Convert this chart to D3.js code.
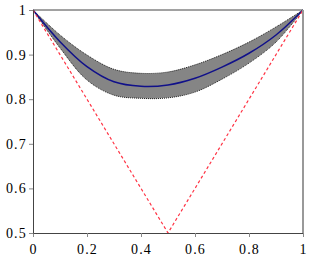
<!DOCTYPE html>
<html>
<head>
<meta charset="utf-8">
<script src="https://cdn.jsdelivr.net/npm/d3@7"></script>
<style>
  body { margin: 0; background: #fff; }
</style>
</head>
<body>
<svg id="chart"></svg>
<script>
const width = 311;
const height = 259;
const margin = {top: 10, right: 8, bottom: 26, left: 33};

// curve samples
const xs    = [0, 0.1, 0.2, 0.3, 0.4, 0.5, 0.6, 0.7, 0.8, 0.9, 1];
const mean  = [1, 0.929, 0.873, 0.839, 0.829, 0.832, 0.847, 0.872, 0.903, 0.944, 1];
const lower = [1, 0.915, 0.843, 0.809, 0.802, 0.803, 0.816, 0.845, 0.881, 0.928, 1];
const upper = [1, 0.944, 0.899, 0.867, 0.858, 0.861, 0.877, 0.900, 0.928, 0.962, 1];
const boundX = [0, 0.5, 1];
const boundY = [1, 0.5, 1];
const xTicks = [0, 0.2, 0.4, 0.6, 0.8, 1];
const yTicks = [0.5, 0.6, 0.7, 0.8, 0.9, 1];

const svg = d3.select('#chart')
    .attr('width', width)
    .attr('height', height);

const x = d3.scaleLinear([0, 1], [margin.left, width - margin.right]);
const y = d3.scaleLinear([0.5, 1], [height - margin.bottom, margin.top]);

const band = d3.area()
    .x((d, i) => x(xs[i]))
    .y0((d, i) => y(lower[i]))
    .y1((d, i) => y(upper[i]))
    .curve(d3.curveCatmullRom);

svg.append('path')
    .datum(xs)
    .attr('fill', '#858585')
    .attr('d', band);

const edge = arr => d3.line()
    .x((d, i) => x(xs[i]))
    .y((d, i) => y(arr[i]))
    .curve(d3.curveCatmullRom)(xs);

[lower, upper].forEach(arr => {
  svg.append('path')
      .attr('d', edge(arr))
      .attr('fill', 'none')
      .attr('stroke', '#222')
      .attr('stroke-width', 1)
      .attr('stroke-dasharray', '1,1');
});

svg.append('path')
    .attr('d', edge(mean))
    .attr('fill', 'none')
    .attr('stroke', '#10108a')
    .attr('stroke-width', 1.5);

svg.append('path')
    .datum(boundX)
    .attr('fill', 'none')
    .attr('stroke', '#ff3344')
    .attr('stroke-width', 1.2)
    .attr('stroke-dasharray', '3,2.5')
    .attr('d', d3.line().x(d => x(d)).y((d, i) => y(boundY[i])));

// frame
svg.append('line')
    .attr('x1', x(0)).attr('x2', x(1))
    .attr('y1', y(1)).attr('y2', y(1))
    .attr('stroke', '#444');
svg.append('line')
    .attr('x1', x(1)).attr('x2', x(1))
    .attr('y1', y(1)).attr('y2', y(0.5))
    .attr('stroke', '#999')
    .attr('stroke-width', 2);

const fmt = d => d === 0 || d === 1 ? String(d) : d3.format('.1f')(d);
const serif = '"Liberation Serif", "Times New Roman", serif';

svg.append('g')
    .attr('transform', `translate(0,${y(0.5)})`)
    .call(d3.axisBottom(x).tickValues(xTicks).tickFormat(fmt).tickSize(4).tickSizeOuter(0))
    .call(g => g.select('.domain').attr('stroke', '#444'))
    .call(g => g.selectAll('.tick line').attr('stroke', '#888'))
    .call(g => g.selectAll('text').attr('font-size', 14).attr('fill', '#000')
        .attr('font-family', serif).attr('letter-spacing', 1.2)
        .attr('y', 21).attr('dy', 0));

svg.append('g')
    .attr('transform', `translate(${x(0)},0)`)
    .call(d3.axisLeft(y).tickValues(yTicks).tickFormat(fmt).tickSize(4).tickSizeOuter(0).tickPadding(2))
    .call(g => g.select('.domain').attr('stroke', '#444'))
    .call(g => g.selectAll('.tick line').attr('stroke', '#888'))
    .call(g => g.selectAll('text').attr('font-size', 14).attr('fill', '#000')
        .attr('font-family', serif).attr('letter-spacing', 1.2));
</script>
</body>
</html>
